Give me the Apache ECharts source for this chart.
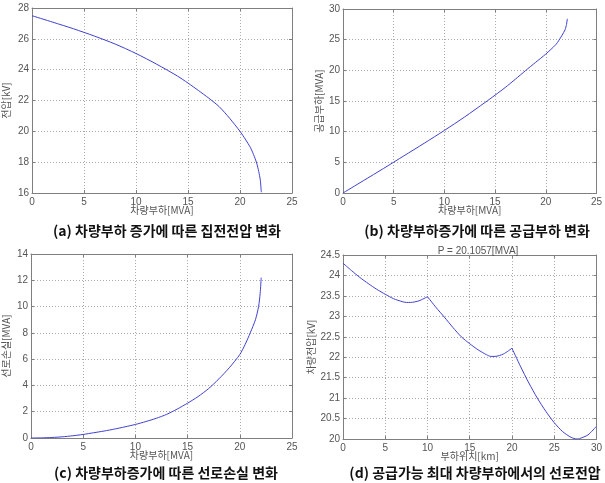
<!DOCTYPE html>
<html><head><meta charset="utf-8">
<script src="https://cdn.jsdelivr.net/npm/echarts@6/dist/echarts.min.js"></script>
<style>html,body{margin:0;padding:0;background:#fff}#c{width:605px;height:483px}</style>
</head><body><div id="c"></div>
<script>
// (a) collector voltage vs vehicle load
const loadA = [0,2,4,6,8,10,12,14,15,16,17,18,19,20,20.5,21,21.3,21.6,21.8,21.95,22.05];
const voltA = [27.5,27.08,26.65,26.18,25.66,25.05,24.35,23.58,23.13,22.65,22.15,21.6,20.85,20.0,19.5,18.95,18.5,17.95,17.4,16.85,16.05];
// (b) supply load vs vehicle load
const loadB = [0,2,4,6,8,10,12,14,15,16,17,18,19,20,21,21.3,21.6,21.9,22.05,22.13];
const supB = [0,2.0,4.0,6.05,8.1,10.2,12.4,14.75,15.95,17.2,18.55,19.95,21.3,22.65,24.2,24.9,25.7,26.6,27.5,28.4];
// (c) line loss vs vehicle load
const loadC = [0,1,2,3,4,5,6,7,8,9,10,11,12,13,14,15,16,17,18,19,20,20.5,21,21.5,21.8,21.95,22.05];
const lossC = [0,0.01,0.04,0.09,0.17,0.27,0.4,0.53,0.68,0.85,1.03,1.25,1.5,1.8,2.2,2.65,3.15,3.75,4.5,5.35,6.35,7.1,8.0,9.0,10.0,11.0,12.2];
// (d) line voltage vs load position (3 sections)
const posD1 = [0,1,2,3,4,5,6,7,7.5,8,9,10];
const voltD1 = [24.30,24.12,23.95,23.80,23.66,23.54,23.43,23.36,23.34,23.34,23.38,23.48];
const posD2 = [10,11,12,13,14,15,16,17,17.5,18,19,20];
const voltD2 = [23.48,23.22,22.98,22.73,22.5,22.33,22.18,22.06,22.02,22.02,22.08,22.22];
const posD3 = [20,21,22,23,24,25,26,27,27.7,28,29,30];
const voltD3 = [22.22,21.78,21.37,21.0,20.68,20.4,20.18,20.04,20.0,20.01,20.1,20.31];

const xNames = ['차량부하[MVA]','차량부하[MVA]','차량부하[MVA]','부하위치[km]'];
const yNames = ['전압[kV]','공급부하[MVA]','선로손실[MVA]','차량전압[kV]'];
const captions = ['(a) 차량부하 증가에 따른 집전전압 변화','(b) 차량부하증가에 따른 공급부하 변화','(c) 차량부하증가에 따른 선로손실 변화','(d) 공급가능 최대 차량부하에서의 선로전압'];
const xRanges = [[0,25,5],[0,25,5],[0,25,5],[0,30,5]];
const yRanges = [[16,28,2],[0,30,5],[0,14,2],[20,24.5,0.5]];
const plotTitle = 'P = 20.1057[MVA]';

const FONT = 'Liberation Sans, Arial, sans-serif';
const KFONT = '"Noto Sans CJK KR", sans-serif';
const AX = '#7f7f7f', LAB = '#555', LINE = '#4040d0';

const grids = [
  {left:32, top:8, width:260, height:185},
  {left:343, top:9, width:259, height:184},
  {left:31, top:254, width:261, height:184},
  {left:343, top:255, width:259, height:184}
];
const yGap = [21, 19, 20, 27];

const xAxis = [], yAxis = [];
grids.forEach((g,i)=>{
  const [xmin,xmax,xi] = xRanges[i], [ymin,ymax,yi] = yRanges[i];
  xAxis.push({type:'value', gridIndex:i, min:xmin, max:xmax, interval:xi, position:'bottom',
    name:xNames[i], nameLocation:'middle', nameGap:12, nameMoveOverlap:false,
    nameTextStyle:{color:LAB, fontSize:10, fontFamily:KFONT},
    axisLine:{onZero:false, lineStyle:{color:AX}}, axisTick:{inside:true, length:3, lineStyle:{color:AX}},
    axisLabel:{color:LAB, fontSize:10, fontFamily:FONT, margin:4},
    splitLine:{show:true, lineStyle:{color:'#aaa', type:[1,2], width:1}}});
  xAxis.push({type:'value', gridIndex:i, min:xmin, max:xmax, interval:xi, position:'top',
    axisLine:{onZero:false, lineStyle:{color:AX}}, axisTick:{inside:true, length:3, lineStyle:{color:AX}},
    axisLabel:{show:false}, splitLine:{show:false}});
  yAxis.push({type:'value', gridIndex:i, min:ymin, max:ymax, interval:yi, position:'left',
    name:yNames[i], nameLocation:'middle', nameGap:yGap[i], nameMoveOverlap:false,
    nameTextStyle:{color:LAB, fontSize:10, fontFamily:KFONT},
    axisLine:{onZero:false, lineStyle:{color:AX}}, axisTick:{inside:true, length:3, lineStyle:{color:AX}},
    axisLabel:{color:LAB, fontSize:10, fontFamily:FONT, margin:3},
    splitLine:{show:true, lineStyle:{color:'#aaa', type:[1,2], width:1}}});
  yAxis.push({type:'value', gridIndex:i, min:ymin, max:ymax, interval:yi, position:'right',
    axisLine:{onZero:false, lineStyle:{color:AX}}, axisTick:{inside:true, length:3, lineStyle:{color:AX}},
    axisLabel:{show:false}, splitLine:{show:false}});
});

function pairs(xs, ys){ return xs.map((x,k)=>[x, ys[k]]); }
function ser(i, xs, ys){
  return {type:'line', xAxisIndex:2*i, yAxisIndex:2*i, data:pairs(xs,ys), showSymbol:false,
    smooth:0.25, lineStyle:{color:LINE, width:1}, silent:true, animation:false};
}

const titles = [
  {text:captions[0], left:162, top:219},
  {text:captions[1], left:472, top:219},
  {text:captions[2], left:161, top:461},
  {text:captions[3], left:470, top:461}
].map(t=>({text:t.text, left:t.left, top:t.top, textAlign:'center',
  textStyle:{fontSize:14, fontWeight:'bold', color:'#111', fontFamily:KFONT}}));
titles.push({text:plotTitle, left:473, top:241, textAlign:'center',
  textStyle:{fontSize:10, fontWeight:'normal', color:LAB, fontFamily:FONT}});

const chart = echarts.init(document.getElementById('c'), null, {renderer:'canvas'});
chart.setOption({
  animation:false,
  title:titles,
  grid:grids.map(g=>Object.assign({containLabel:false}, g)),
  xAxis, yAxis,
  series:[
    ser(0, loadA, voltA),
    ser(1, loadB, supB),
    ser(2, loadC, lossC),
    ser(3, posD1, voltD1),
    ser(3, posD2, voltD2),
    ser(3, posD3, voltD3)
  ]
});
</script></body></html>
